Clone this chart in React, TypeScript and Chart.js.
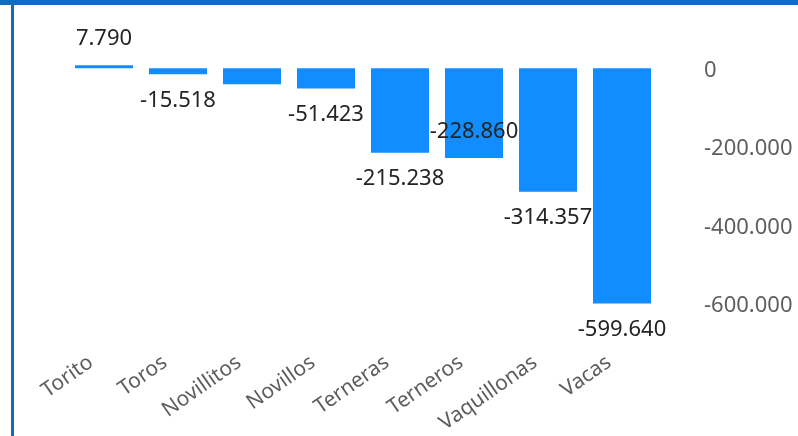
import React, { useEffect, useRef } from "react";
import { Chart, registerables } from "chart.js";

Chart.register(...registerables);

const categories = ["Torito", "Toros", "Novillitos", "Novillos", "Terneras", "Terneros", "Vaquillonas", "Vacas"];
const values = [7790, -15518, -40900, -51423, -215238, -228860, -314357, -599640];
const yTickValues = [0, -200000, -400000, -600000];
// label placement per bar: "out" = outside end, "in" = inside end, "none" = hidden
const labelPlacement = ["out", "out", "none", "out", "out", "in", "out", "out"];

const fmt = (v: number) => {
  const s = Math.abs(Math.round(v)).toString().replace(/\B(?=(\d{3})+(?!\d))/g, ".");
  return (v < 0 ? "-" : "") + s;
};

const FONT = "'Noto Sans', 'Open Sans', sans-serif";

const framePlugin = {
  id: "frame",
  afterDraw(chart: any) {
    const ctx = chart.ctx;
    ctx.save();
    ctx.fillStyle = "#106CBC";
    ctx.fillRect(0, 0, chart.width, 5);
    ctx.fillRect(11, 0, 3, chart.height);
    ctx.restore();
  },
};

const labelPlugin = {
  id: "barLabels",
  afterDatasetsDraw(chart: any) {
    const ctx = chart.ctx;
    const meta = chart.getDatasetMeta(0);
    ctx.save();
    ctx.font = `22px ${FONT}`;
    ctx.fillStyle = "#252423";
    ctx.textAlign = "center";
    ctx.textBaseline = "middle";
    meta.data.forEach((bar: any, i: number) => {
      const mode = labelPlacement[i];
      if (mode === "none") return;
      const v = values[i];
      const off = 26.5;
      let y: number;
      if (v >= 0) y = mode === "out" ? bar.y - off : bar.y + off;
      else y = mode === "out" ? bar.y + off : bar.y - off;
      ctx.fillText(fmt(v), bar.x, y);
    });
    ctx.restore();
  },
};

const zeroPad = (scale: any) => {
  scale.paddingTop = 0;
  scale.paddingBottom = 0;
  scale.paddingLeft = 0;
  scale.paddingRight = 0;
};

export default function App() {
  const ref = useRef<HTMLCanvasElement | null>(null);
  useEffect(() => {
    if (!ref.current) return;
    const chart = new Chart(ref.current, {
      type: "bar",
      data: {
        labels: categories,
        datasets: [
          {
            data: values,
            backgroundColor: "#118DFF",
            borderWidth: 0,
            barPercentage: 0.784,
            categoryPercentage: 1,
          },
        ],
      },
      options: {
        animation: false,
        responsive: true,
        maintainAspectRatio: false,
        layout: { padding: { top: 29, left: 67, right: 0, bottom: 9 } },
        plugins: { legend: { display: false }, tooltip: { enabled: false } },
        scales: {
          x: {
            grid: { display: false, drawTicks: false },
            border: { display: false },
            afterFit: (scale: any) => {
              scale.height = 84;
              zeroPad(scale);
            },
            ticks: {
              color: "#605E5C",
              font: { family: FONT, size: 21 },
              minRotation: 35,
              maxRotation: 35,
              padding: 7,
              labelOffset: -13,
              autoSkip: false,
            },
          },
          y: {
            position: "right",
            min: -700000,
            max: 100000,
            grid: { display: false, drawTicks: false },
            border: { display: false },
            afterFit: (scale: any) => {
              scale.width = 139;
              zeroPad(scale);
            },
            afterBuildTicks: (scale: any) => {
              scale.ticks = yTickValues.map((v) => ({ value: v }));
            },
            ticks: {
              color: "#605E5C",
              font: { family: FONT, size: 22 },
              padding: 45,
              labelOffset: 2,
              callback: (v: any) => fmt(Number(v)),
            },
          },
        },
      },
      plugins: [labelPlugin, framePlugin],
    });
    return () => chart.destroy();
  }, []);
  return (
    <div style={{ position: "fixed", left: 0, top: 0, width: 798, height: 436, background: "#fff" }}>
      <canvas ref={ref} />
    </div>
  );
}
